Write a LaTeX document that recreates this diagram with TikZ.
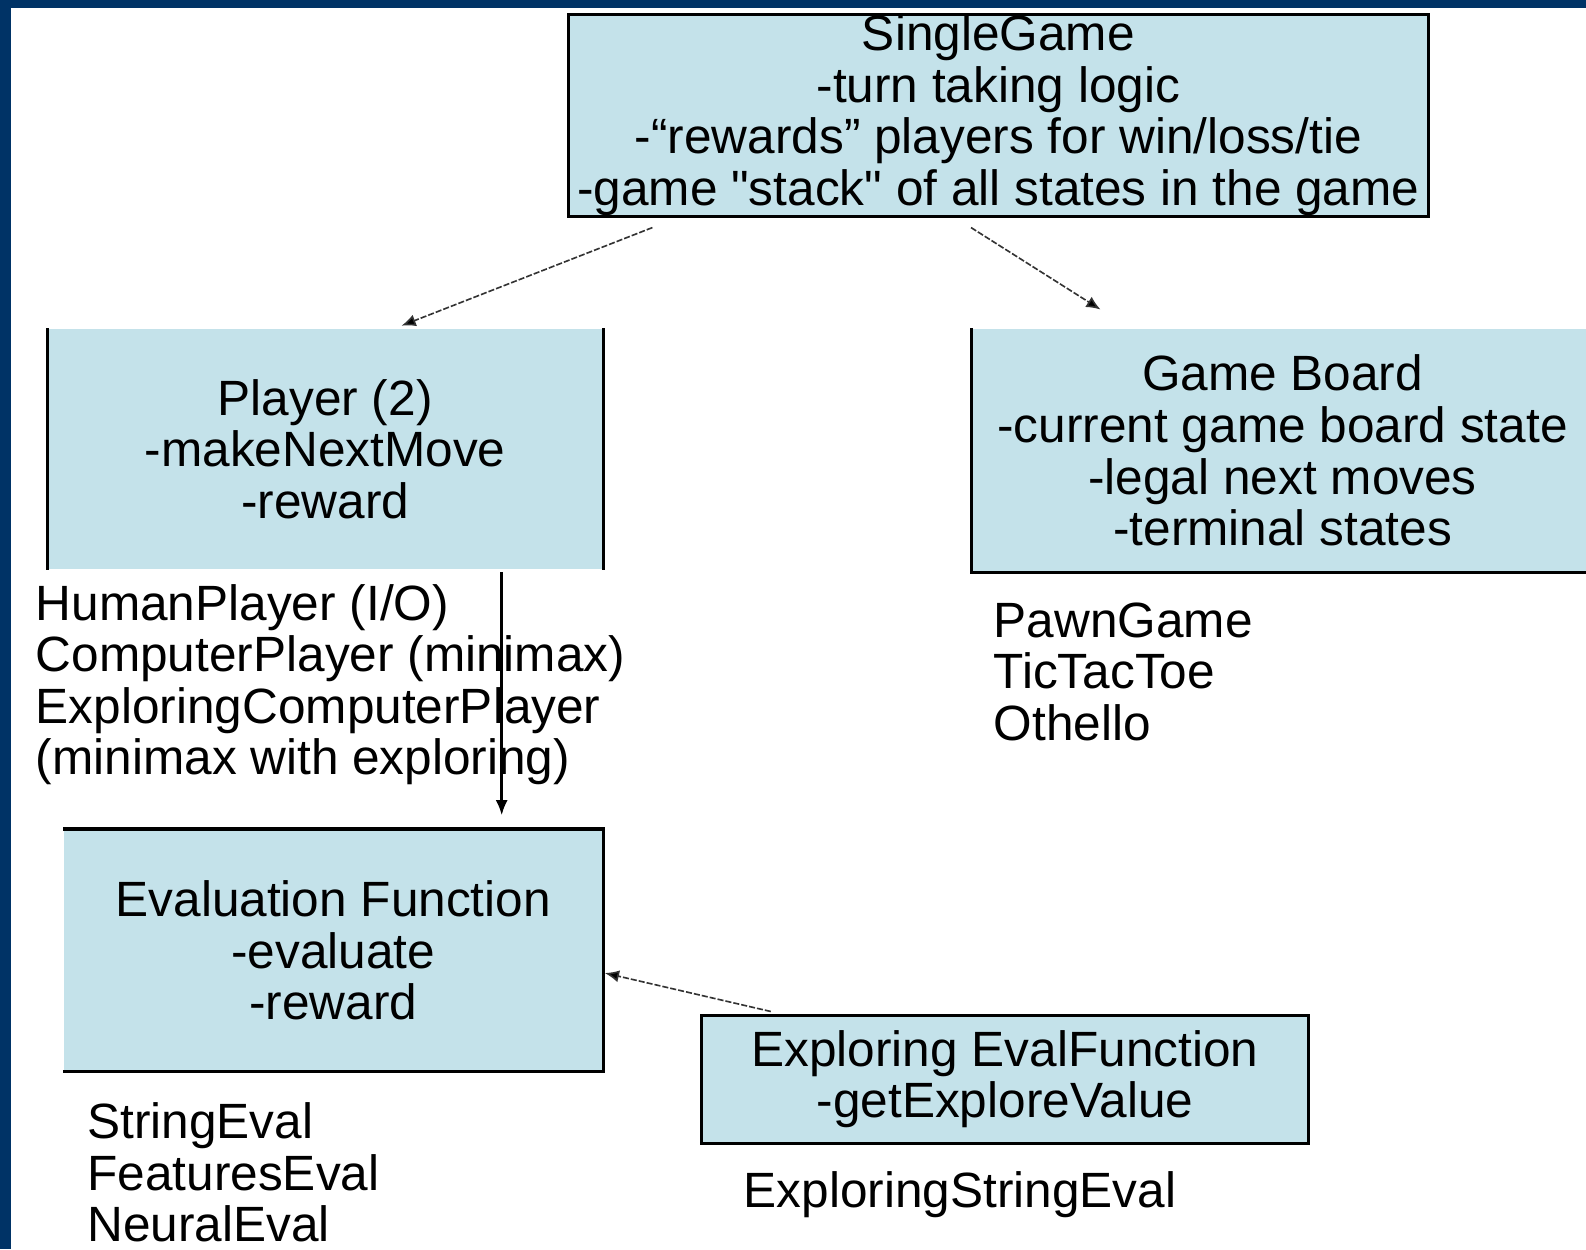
\documentclass[tikz,border=0pt]{standalone}
\usepackage{fontspec}
\setmainfont{Liberation Sans}[Ligatures=TeXOff]
\usetikzlibrary{arrows.meta}

\definecolor{boxblue}{HTML}{C4E2EA}
\definecolor{slidenavy}{HTML}{003366}

\tikzset{
    classbox/.style={fill=boxblue, inner sep=0pt, align=center},
    side/.style={line width=1.5pt},
    link/.style={draw=black!80, line width=0.8pt, dash pattern=on 3pt off 1pt,
        -{Latex[length=7pt, width=6pt, fill=black]}},
    uses/.style={line width=1.2pt, -{Latex[length=7.5pt, width=6pt]}},
    list/.style={anchor=west, align=left, inner sep=0pt},
}

\begin{document}
\begin{tikzpicture}[x=0.5pt, y=-0.5pt, font=\fontsize{24.5}{25.5}\selectfont]
    \useasboundingbox (0,0) rectangle (1568,1235);
    \fill[white] (0,0) rectangle (1568,1235);

    % slide frame
    \fill[slidenavy] (0,0) rectangle (1568,8);
    \fill[slidenavy] (0,0) rectangle (11,1235);

    % classes
    \node[classbox, minimum width=425pt, minimum height=99pt] (game) at (987,114)
        {SingleGame\\-turn taking logic\\-“rewards” players for win/loss/tie\\-game "stack" of all states in the game};
    \node[classbox, minimum width=274.5pt, minimum height=119pt] (player) at (321.5,444)
        {Player (2)\\-makeNextMove\\-reward};
    \node[classbox, minimum width=307pt, minimum height=120.5pt] (board) at (1268,445.5)
        {Game Board\\-current game board state\\-legal next moves\\-terminal states};
    \node[classbox, minimum width=266.5pt, minimum height=119.5pt] (eval) at (329.5,939.5)
        {Evaluation Function\\-evaluate\\-reward};
    \node[classbox, minimum width=299.5pt, minimum height=63pt] (explore) at (993.5,1067)
        {Exploring EvalFunction\\-getExploreValue};

    % visible box edges
    \draw[side] (game.north west) rectangle (game.south east);
    \draw[side] (player.north west) -- (player.south west)
                (player.north east) -- (player.south east);
    \draw[side] (board.north west) -- (board.south west) -- (board.south east);
    \draw[side] (eval.north west) -- (eval.north east) -- (eval.south east) -- (eval.south west);
    \draw[side] (explore.north west) rectangle (explore.south east);

    % subclasses
    \node[list] (players) at (35,677)
        {HumanPlayer (I/O)\\ComputerPlayer (minimax)\\ExploringComputerPlayer\\(minimax with exploring)};
    \node[list] (games) at (982,664) {PawnGame\\TicTacToe\\Othello};
    \node[list] (evals) at (86,1159) {StringEval\\FeaturesEval\\NeuralEval};
    \node[list] (xevals) at (735,1181) {ExploringStringEval};

    % connectors
    \coordinate (game-l) at (645,225);
    \coordinate (player-in) at (397,322);
    \coordinate (game-r) at (960,225);
    \coordinate (board-in) at (1088,306);
    \coordinate (player-out) at (496,566);
    \coordinate (eval-in) at (496,806);
    \coordinate (explore-out) at (762,1000);
    \coordinate (eval-r) at (598,962);

    \draw[link] (game-l) -- (player-in);
    \draw[link] (game-r) -- (board-in);
    \draw[uses] (player-out) -- (eval-in);
    \draw[link] (explore-out) -- (eval-r);
\end{tikzpicture}
\end{document}
